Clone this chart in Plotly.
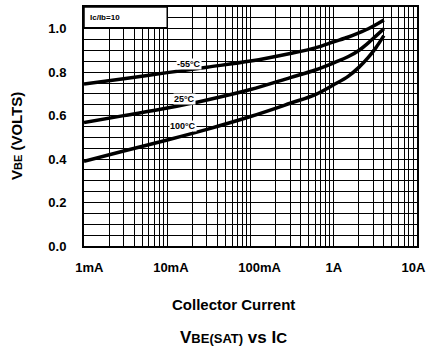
import math
import plotly.graph_objects as go

# Collector current (A)
ic = [0.001, 0.003, 0.01, 0.03, 0.1, 0.3, 0.6, 1.0, 1.5, 2.0, 2.6, 3.2, 4.0]
v_m55 = [0.745, 0.770, 0.798, 0.823, 0.851, 0.886, 0.912, 0.940, 0.962, 0.981, 1.000, 1.018, 1.040]
v_25 = [0.568, 0.600, 0.635, 0.672, 0.720, 0.775, 0.810, 0.843, 0.872, 0.900, 0.935, 0.966, 1.000]
v_100 = [0.390, 0.437, 0.488, 0.537, 0.596, 0.657, 0.697, 0.742, 0.782, 0.822, 0.868, 0.912, 0.968]

series_names = ["-55°C", "25°C", "100°C"]
label_x = [0.0126, 0.0118, 0.0105]
label_y = [0.838, 0.678, 0.552]

x_tickvals = [0.001, 0.01, 0.1, 1, 10]
x_ticktext = ["\u00a0\u00a0\u00a01mA", "\u00a0\u00a010mA", "\u00a0\u00a0\u00a0\u00a0\u00a0100mA", "1A", "10A\u00a0\u00a0"]
y_tickvals = [0.0, 0.2, 0.4, 0.6, 0.8, 1.0]
y_ticktext = ["0.0", "0.2", "0.4", "0.6", "0.8", "1.0"]

FONT = "Liberation Sans, Arial, sans-serif"

fig = go.Figure()
for name, vals in zip(series_names, [v_m55, v_25, v_100]):
    fig.add_trace(go.Scatter(x=ic, y=vals, mode="lines", name=name,
                             line=dict(color="black", width=3.5, shape="spline", smoothing=1.0),
                             showlegend=False, hoverinfo="skip"))

for name, lx, ly in zip(series_names, label_x, label_y):
    fig.add_annotation(x=math.log10(lx), y=ly, xref="x", yref="y", text=name, showarrow=False,
                       xanchor="left", yanchor="middle", bgcolor="white",
                       font=dict(family=FONT, size=9, color="black", weight="bold"), borderpad=0)

# Ic/Ib box
fig.add_shape(type="rect", xref="paper", yref="paper", x0=0, x1=0.25, y0=(1.0045 / 1.1), y1=1,
              fillcolor="white", line=dict(color="black", width=1.5), layer="above")
fig.add_annotation(xref="paper", yref="paper", x=0.012, y=0.955, text="Ic/Ib=10", showarrow=False,
                   xanchor="left", yanchor="middle",
                   font=dict(family=FONT, size=8, color="black", weight="bold"))

fig.add_annotation(xref="paper", yref="paper", x=(15 - 84) / 338, y=0.46, textangle=-90,
                   xanchor="center", yanchor="middle",
                   text="V<span style='font-size:11px'>BE</span> (VOLTS)", showarrow=False,
                   font=dict(family=FONT, size=15, color="black", weight="bold"))
fig.add_annotation(xref="paper", yref="paper", x=(236 - 84) / 338, y=-(305 - 246) / 241,
                   text="Collector Current", showarrow=False, yanchor="middle",
                   font=dict(family=FONT, size=15, color="black", weight="bold"))
fig.add_annotation(xref="paper", yref="paper", x=(236 - 84) / 338, y=-(338 - 246) / 241,
                   text="V<span style='font-size:13px'>BE(SAT)</span> vs I<span style='font-size:15px'>C</span>",
                   showarrow=False, yanchor="middle",
                   font=dict(family=FONT, size=17, color="black", weight="bold"))

fig.update_xaxes(type="log", range=[-3, 1], tickvals=x_tickvals, ticktext=x_ticktext,
                 showgrid=True, gridcolor="black", gridwidth=1.3,
                 minor=dict(dtick="D1", showgrid=True, gridcolor="black", gridwidth=1),
                 showline=True, linecolor="black", linewidth=2, mirror=True,
                 ticks="outside", ticklen=8, tickcolor="rgba(0,0,0,0)",
                 tickfont=dict(family=FONT, size=13, color="black", weight="bold"),
                 zeroline=False)
fig.update_yaxes(range=[0, 1.1], tickvals=y_tickvals, ticktext=y_ticktext,
                 showgrid=True, gridcolor="black", gridwidth=1.3,
                 minor=dict(dtick=0.05, tick0=0, showgrid=True, gridcolor="black", gridwidth=1),
                 showline=True, linecolor="black", linewidth=2, mirror=True,
                 ticks="outside", ticklen=13, tickcolor="rgba(0,0,0,0)",
                 tickfont=dict(family=FONT, size=13, color="black", weight="bold"),
                 zeroline=False)

fig.update_layout(width=438, height=357, margin=dict(l=84, r=16, t=5, b=111),
                  paper_bgcolor="white", plot_bgcolor="white")

fig.write_html("out.html", config={"displayModeBar": False},
               post_script="document.body.style.margin='0';")
